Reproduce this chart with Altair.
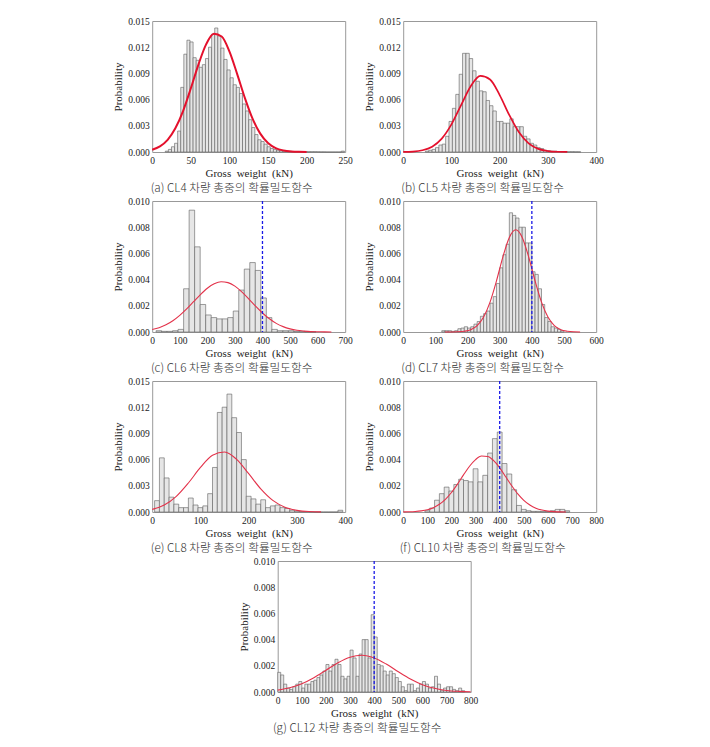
import altair as alt
import pandas as pd

# ---------------- data ----------------
# (a) CL4
A_FIRST, A_BIN = 17, 4
A_PROB = [0.0001, 0.0003, 0.0006, 0.0010, 0.0024, 0.0074, 0.0112, 0.0128, 0.0126, 0.0108,
          0.0105, 0.0097, 0.0100, 0.0107, 0.0120, 0.0135, 0.0142, 0.0133, 0.0119, 0.0106,
          0.0094, 0.0085, 0.0077, 0.0074, 0.0067, 0.0055, 0.0047, 0.0037, 0.0028, 0.0020,
          0.0014, 0.0012, 0.0009, 0.0006, 0.0004, 0.0003, 0.0002, 0.00015, 0.0001, 0.0001,
          0.00008, 0.00006, 0.00005, 0.00005, 0.00004, 0.00004, 0.00003, 0.00003, 0.00003, 0.00002,
          0.00001, 0.00001, 0, 0, 0, 0, 0, 0.0001]
A_CX = list(range(0, 201, 10))
A_CY = [0.00026, 0.00064, 0.00139, 0.00271, 0.00469, 0.00727, 0.01004, 0.01235, 0.01353, 0.01322,
        0.01152, 0.00895, 0.0062, 0.00382, 0.0021, 0.00103, 0.00045, 0.00018, 0.00006, 0.00002, 0.00001]

# (b) CL5
B_FIRST, B_BIN = 46, 7
B_PROB = [0.0001, 0.0002, 0.0003, 0.0005, 0.0008, 0.0009, 0.0018, 0.0035, 0.0050, 0.0066,
          0.0089, 0.0113, 0.0113, 0.0107, 0.0093, 0.0081, 0.0070, 0.0069, 0.0059, 0.0053,
          0.0047, 0.0035, 0.0035, 0.0033, 0.0033, 0.0038, 0.0029, 0.0029, 0.0029, 0.0018,
          0.0015, 0.0010, 0.0008, 0.0005, 0.0004, 0.0002, 0.00015, 0.0001, 0.0001, 0.00005,
          0.00005, 0.00004, 0.00003, 0.00003, 0.00002, 0.00002]
B_CX = list(range(0, 341, 20))
B_CY = [0.00001, 0.00005, 0.0002, 0.00061, 0.00153, 0.00316, 0.00537, 0.00753, 0.00871, 0.0083,
        0.00652, 0.00422, 0.00225, 0.00099, 0.00036, 0.00011, 0.00003, 0.00001]

# (c) CL6
C_FIRST, C_BIN = 14, 20
C_PROB = [0.0001, 0.00005, 0.00005, 0.0001, 0.0002, 0.0033, 0.0093, 0.0065, 0.0021, 0.0013,
          0.0011, 0.0010, 0.0010, 0.0011, 0.0016, 0.0032, 0.0048, 0.0053, 0.0047, 0.0026,
          0.0011, 0.0002, 0.0001, 0.0001, 0.0001, 0.00005, 0.00005, 0.00002, 0.00002]
C_CX = list(range(0, 651, 25))
C_CY = [0.00019, 0.00033, 0.00055, 0.00086, 0.00127, 0.00176, 0.00231, 0.00286, 0.00334, 0.00368,
        0.00384, 0.00377, 0.0035, 0.00306, 0.00253, 0.00197, 0.00145, 0.00101, 0.00066, 0.00041,
        0.00024, 0.00013, 0.00007, 0.00003, 0.00002, 0.00001, 0.000005]

# (d) CL7
D_FIRST, D_BIN = 120, 10
D_PROB = [0.0001, 0.0001, 0.0001, 0.00005, 0.0001, 0.00025, 0.0003, 0.0004, 0.0003, 0.0004,
          0.0006, 0.0008, 0.0012, 0.0014, 0.0016, 0.0022, 0.0027, 0.0037, 0.0049, 0.0059,
          0.0067, 0.0091, 0.0089, 0.0087, 0.0080, 0.0080, 0.0068, 0.0068, 0.0046, 0.0044,
          0.0033, 0.0021, 0.0011, 0.0008, 0.0004, 0.0003, 0.0002, 0.0001]
D_CX = list(range(130, 551, 20))
D_CY = [0.000001, 0.000004, 0.000015, 0.00006, 0.00018, 0.00049, 0.00114, 0.00228, 0.0039, 0.00574,
        0.00722, 0.0078, 0.00722, 0.00574, 0.0039, 0.00228, 0.00114, 0.00049, 0.00018, 0.00006,
        0.000015, 0.000004]

# (e) CL8
E_FIRST, E_BIN = 5, 10
E_PROB = [0.0013, 0.0062, 0.0039, 0.0017, 0.0009, 0.0005, 0.0005, 0.0016, 0.0008, 0.0005,
          0.0007, 0.0021, 0.0051, 0.0114, 0.0120, 0.0135, 0.0108, 0.0091, 0.0060, 0.0018,
          0.0015, 0.0009, 0.0014, 0.0005, 0.0007, 0.0008, 0.0005, 0.0004, 0.0002, 0.0001,
          0.00005, 0.00005, 0.00002, 0, 0, 0, 0, 0, 0.0002]
E_CX = list(range(0, 351, 25))
E_CY = [0.0003, 0.0008, 0.00179, 0.00332, 0.0051, 0.0065, 0.00687, 0.00603, 0.00439, 0.00265,
        0.00133, 0.00055, 0.00019, 0.00005, 0.00001]

# (f) CL10
F_FIRST, F_BIN = 90, 20
F_PROB = [0.0001, 0.0003, 0.0009, 0.0014, 0.0019, 0.0016, 0.0021, 0.0025, 0.0024, 0.0023,
          0.0033, 0.0023, 0.0028, 0.0045, 0.0056, 0.0061, 0.0037, 0.0029, 0.0017, 0.0005,
          0.0002, 0.0001, 0.00005, 0.00005, 0.00003, 0.00003, 0.0001, 0.0002, 0.0002, 0.0001]
F_CX = list(range(0, 676, 25))
F_CY = [0.000006, 0.000016, 0.000038, 0.000085, 0.00017, 0.00033, 0.00059, 0.00097, 0.00149, 0.00213,
        0.00283, 0.00349, 0.004, 0.00427, 0.00424, 0.00392, 0.00337, 0.00269, 0.002, 0.00138,
        0.00089, 0.00053, 0.00029, 0.00015, 0.00007, 0.00003, 0.00001, 0.000005]

# (g) CL12
G_FIRST, G_BIN = 0, 12.5
G_PROB = [0.0015, 0.0013, 0.0006, 0.0003, 0.0002, 0.0004, 0.0006, 0.0008, 0.0003, 0.0006,
          0.0006, 0.0008, 0.0009, 0.0011, 0.0013, 0.0016, 0.0021, 0.0016, 0.0021, 0.0025,
          0.0021, 0.0012, 0.0010, 0.0012, 0.0032, 0.0026, 0.0012, 0.0029, 0.0040, 0.0040,
          0.0026, 0.0059, 0.0042, 0.0021, 0.0020, 0.0016, 0.0013, 0.0016, 0.0014, 0.0011,
          0.0008, 0.0004, 0.0001, 0.0006, 0.0006, 0.0001, 0.0003, 0.0006, 0.0008, 0.0006,
          0.0003, 0.0004, 0.0012, 0.0006, 0.0001, 0.0003, 0.0004, 0.0004, 0.0002, 0.0001,
          0.0003, 0.0001]
G_CX = list(range(0, 801, 50))
G_CY = [0.000146, 0.00032, 0.00063, 0.00109, 0.00166, 0.00224, 0.00266, 0.0028, 0.0026, 0.00213,
        0.00154, 0.00099, 0.00056, 0.00028, 0.00012, 0.00005, 0.00002]

Y15 = [0, 0.003, 0.006, 0.009, 0.012, 0.015]
Y10 = [0, 0.002, 0.004, 0.006, 0.008, 0.010]
LIMIT = 400

CAPTIONS = ["(a) CL4 차량 총중의 확률밀도함수", "(b) CL5 차량 총중의 확률밀도함수",
            "(c) CL6 차량 총중의 확률밀도함수", "(d) CL7 차량 총중의 확률밀도함수",
            "(e) CL8 차량 총중의 확률밀도함수", "(f) CL10 차량 총중의 확률밀도함수",
            "(g) CL12 차량 총중의 확률밀도함수"]

XTITLE = "Gross\u2002weight\u2002(kN)"


def panel(first, binw, probs, cx, cy, xmax, xstep, yvals, caption, dash=None,
          lw=1.1, lc="#e3324a"):
    starts = [first + i * binw for i in range(len(probs))]
    bars_df = pd.DataFrame({"x": starts, "hi": [s + binw for s in starts], "y": probs})
    xs = alt.Scale(domain=[0, xmax], nice=False, zero=False)
    ys = alt.Scale(domain=[0, yvals[-1]], nice=False)
    xaxis = alt.Axis(title=XTITLE, values=list(range(0, xmax + 1, xstep)), format="d",
                     labelFlush=False, titlePadding=3)
    yaxis = alt.Axis(title="Probability", values=yvals, format=".3f", titlePadding=4)
    X = alt.X("x:Q", scale=xs, axis=xaxis)
    Y = alt.Y("y:Q", scale=ys, axis=yaxis)
    bars = alt.Chart(bars_df).mark_bar(fill="#e6e6e6", stroke="#5e5e5e", strokeWidth=0.6).encode(
        x=X, x2="hi:Q", y=Y, y2=alt.datum(0))
    curve = alt.Chart(pd.DataFrame({"x": cx, "y": cy})).mark_line(
        color=lc, strokeWidth=lw, interpolate="monotone").encode(x=X, y=Y)
    layers = [bars, curve]
    if dash is not None:
        layers.append(alt.Chart(pd.DataFrame({"x": [dash]})).mark_rule(
            color="#1a1ae6", strokeDash=[3, 2], strokeWidth=1.3).encode(x=X))
    return alt.layer(*layers).properties(
        width=193, height=131,
        title=alt.TitleParams(caption, orient="bottom", anchor="middle", dx=-17))


pa = panel(A_FIRST, A_BIN, A_PROB, A_CX, A_CY, 250, 50, Y15, CAPTIONS[0], lw=2.0, lc="#e4102c")
pb = panel(B_FIRST, B_BIN, B_PROB, B_CX, B_CY, 400, 100, Y15, CAPTIONS[1], lw=1.7, lc="#e4102c")
pc = panel(C_FIRST, C_BIN, C_PROB, C_CX, C_CY, 700, 100, Y10, CAPTIONS[2], dash=LIMIT)
pd_ = panel(D_FIRST, D_BIN, D_PROB, D_CX, D_CY, 600, 100, Y10, CAPTIONS[3], dash=LIMIT)
pe = panel(E_FIRST, E_BIN, E_PROB, E_CX, E_CY, 400, 100, Y15, CAPTIONS[4])
pf = panel(F_FIRST, F_BIN, F_PROB, F_CX, F_CY, 800, 100, Y10, CAPTIONS[5], dash=LIMIT)
pg = panel(G_FIRST, G_BIN, G_PROB, G_CX, G_CY, 800, 100, Y10, CAPTIONS[6], dash=LIMIT)

chart = alt.vconcat(
    alt.hconcat(pa, pb, spacing=10),
    alt.hconcat(pc, pd_, spacing=10),
    alt.hconcat(pe, pf, spacing=10),
    pg,
    spacing=0, center=True,
).properties(
    padding={"left": 104, "top": 7, "right": 5, "bottom": 5}
).configure_view(
    stroke="#999999", strokeWidth=1
).configure_axis(
    grid=False, ticks=False, domain=False,
    labelFont="Liberation Serif", labelFontSize=9.5, labelColor="#222222", labelPadding=3,
    titleFont="Liberation Serif", titleFontSize=11, titleFontWeight="normal", titleColor="#222222",
).configure_axisY(
    labelPadding=3
).configure_title(
    font="Noto Sans CJK KR", fontSize=11.7, fontWeight=300, color="#333333", offset=4
)

chart.save("out.html", embed_options={"renderer": "svg", "actions": False})
